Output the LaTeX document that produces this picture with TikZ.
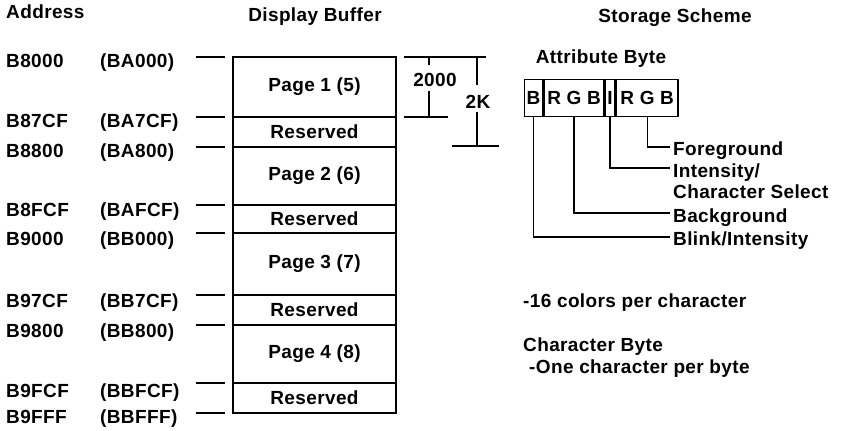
\documentclass[tikz,border=0pt]{standalone}
\usepackage{fontspec}
\setmainfont{Liberation Sans}[LetterSpace=2]
\usetikzlibrary{positioning}
\tikzset{
    lbl/.style={font=\fontsize{19}{22}\selectfont\bfseries, inner sep=0pt},
    region/.style={lbl, draw, line width=2.1pt, outer sep=0pt, minimum width=163pt},
    bitcell/.style={lbl, draw, line width=1.7pt, minimum height=37pt},
    tick/.style={line width=1.4pt},
    leader/.style={line width=1.4pt},
    dimline/.style={line width=1.4pt}
}

\begin{document}
\begin{tikzpicture}[x=1pt, y=-1pt]
    \useasboundingbox (0,0) rectangle (841,431);
    % headings
    \node[lbl, anchor=base west] (hdaddr) at (6,18) {Address};
    \node[lbl, anchor=base] (hdbuf) at (315,21) {Display Buffer};
    \node[lbl, anchor=base] (hdstore) at (675,22) {Storage Scheme};

    % display buffer
    \node[region, minimum height=60pt, anchor=north] (page1) at (314.5,57) {Page 1 (5)};
    \node[region, minimum height=30pt, below=0pt of page1] (res1) {Reserved};
    \node[region, minimum height=58pt, below=0pt of res1] (page2) {Page 2 (6)};
    \node[region, minimum height=28pt, below=0pt of page2] (res2) {Reserved};
    \node[region, minimum height=62pt, below=0pt of res2] (page3) {Page 3 (7)};
    \node[region, minimum height=30pt, below=0pt of page3] (res3) {Reserved};
    \node[region, minimum height=58pt, below=0pt of res3] (page4) {Page 4 (8)};
    \node[region, minimum height=30pt, below=0pt of page4] (res4) {Reserved};

    \foreach \n in {page1,res1,page2,res2,page3,res3,page4,res4}
        \draw[tick] ([xshift=-37.5pt]\n.north west) -- ([xshift=-8.5pt]\n.north west);
    \draw[tick] ([xshift=-37.5pt]res4.south west) -- ([xshift=-8.5pt]res4.south west);

    % addresses
    \foreach \y/\a/\b [count=\i] in {67/B8000/BA000, 127/B87CF/BA7CF, 157/B8800/BA800,
        216/B8FCF/BAFCF, 245/B9000/BB000, 307/B97CF/BB7CF, 337/B9800/BB800,
        397/B9FCF/BBFCF, 423/B9FFF/BBFFF} {
        \node[lbl, anchor=base west] (hex\i) at (6,\y) {\a};
        \node[lbl, anchor=base west] (alt\i) at (100,\y) {(\b)};
    }

    % sizes
    \coordinate (topA) at (404,57);
    \coordinate (topB) at (486,57);
    \draw[dimline] (topA) -- (topB);
    \node[lbl] (sz2000) at (435,80) {2000};
    \draw[dimline] (429,57) -- (429,65) (429,91) -- (429,117);
    \draw[dimline] (404,117) -- (448,117);
    \node[lbl] (sz2k) at (478,102) {2K};
    \draw[dimline] (477,57) -- (477,85) (477,112) -- (477,146);
    \draw[dimline] (452,146) -- (499,146);

    % attribute byte
    \node[lbl, anchor=base] (hdattr) at (601,63) {Attribute Byte};
    \node[bitcell, minimum width=18.5pt, anchor=north west] (blink) at (523.5,78.5) {B};
    \node[bitcell, minimum width=59pt, right=0pt of blink] (bg) {R G B};
    \node[bitcell, minimum width=9.5pt, right=0pt of bg] (inten) {I};
    \node[bitcell, minimum width=61.5pt, right=0pt of inten] (fg) {R G B};

    \node[lbl, anchor=base west] (fglbl) at (673,155) {Foreground};
    \node[lbl, anchor=base west] (intlbl) at (673,177) {Intensity/};
    \node[lbl, anchor=base west] (intlbl2) at (673,198) {Character Select};
    \node[lbl, anchor=base west] (bglbl) at (673,222) {Background};
    \node[lbl, anchor=base west] (blinklbl) at (673,245) {Blink/Intensity};

    \draw[leader] (fg.south) |- ([shift={(-3pt,8pt)}]fglbl.base west);
    \draw[leader] (inten.south) |- ([shift={(-3pt,9pt)}]intlbl.base west);
    \draw[leader] (bg.south) |- ([shift={(-3pt,9pt)}]bglbl.base west);
    \draw[leader] (blink.south) |- ([shift={(-3pt,8pt)}]blinklbl.base west);

    % notes
    \node[lbl, anchor=base west] (colors) at (523,307) {-16 colors per character};
    \node[lbl, anchor=base west] (chbyte) at (523,351) {Character Byte};
    \node[lbl, anchor=base west] (chnote) at (529,373) {-One character per byte};
\end{tikzpicture}
\end{document}
